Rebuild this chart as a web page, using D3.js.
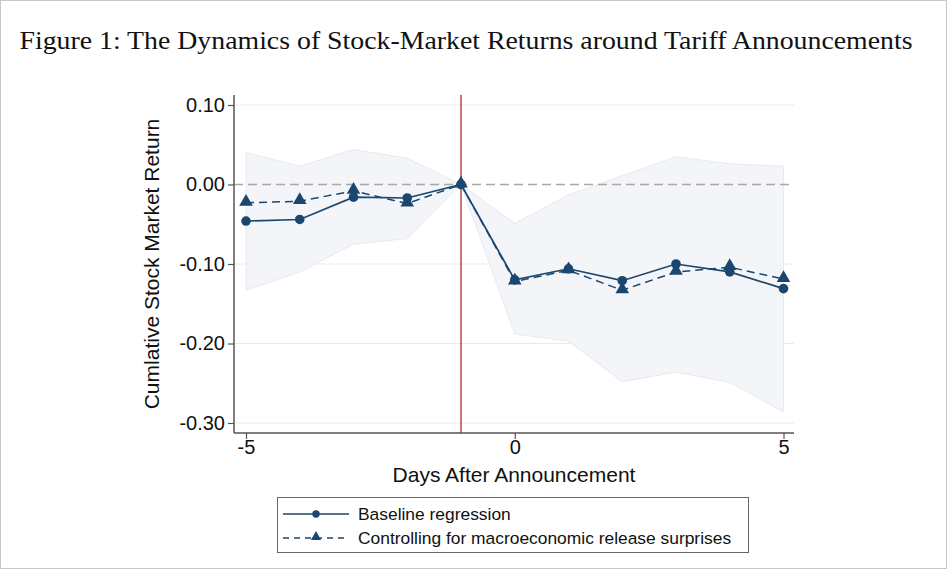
<!DOCTYPE html>
<html>
<head>
<meta charset="utf-8">
<script src="https://cdn.jsdelivr.net/npm/d3@7"></script>
<style>
  body { margin: 0; background: #fff; }
  svg { display: block; }
</style>
</head>
<body>
<div id="chart"></div>
<script>
// Days relative to announcement
const days = [-5, -4, -3, -2, -1, 0, 1, 2, 3, 4, 5];
// Baseline regression (circles)
const baseline = [-0.046, -0.044, -0.016, -0.017, 0, -0.120, -0.106, -0.121, -0.100, -0.110, -0.131];
// Controlling for macro surprises (triangles)
const controlled = [-0.023, -0.021, -0.008, -0.024, 0, -0.122, -0.108, -0.133, -0.110, -0.104, -0.119];
// Confidence band around baseline
const ciUpper = [0.040, 0.023, 0.044, 0.033, 0, -0.049, -0.013, 0.011, 0.035, 0.026, 0.023];
const ciLower = [-0.133, -0.110, -0.075, -0.068, 0, -0.188, -0.197, -0.248, -0.236, -0.249, -0.286];
const yTicks = [0.10, 0.00, -0.10, -0.20, -0.30];
const xTicks = [-5, 0, 5];

const W = 947, H = 569;
const navy = "#1a476f";
const sans = "Liberation Sans, Arial, sans-serif";

const svg = d3.select("#chart").append("svg")
    .attr("width", W)
    .attr("height", H);

// outer frame
svg.append("rect")
    .attr("x", 0.5).attr("y", 0.5)
    .attr("width", W - 1).attr("height", H - 1)
    .attr("fill", "none")
    .attr("stroke", "#c8c8c8");

svg.append("text")
    .attr("x", 466).attr("y", 49)
    .attr("text-anchor", "middle")
    .attr("font-family", "Liberation Serif, serif")
    .attr("font-size", 26)
    .attr("textLength", 893)
    .attr("lengthAdjust", "spacingAndGlyphs")
    .attr("fill", "#111")
    .text("Figure 1: The Dynamics of Stock-Market Returns around Tariff Announcements");

const plot = {left: 234, right: 794, top: 95, bottom: 433};

const x = d3.scaleLinear().domain([-5, 5]).range([246, 783.5]);
const y = d3.scaleLinear().domain([0.10, -0.30]).range([105, 423]);

// hyphen instead of unicode minus, like the original
const fmtY = d => d3.format(".2f")(d).replace("−", "-");

const g = svg.append("g");

// gridlines
g.selectAll("line.grid")
    .data(yTicks.filter(d => d !== 0))
    .enter().append("line")
    .attr("x1", plot.left).attr("x2", plot.right)
    .attr("y1", d => y(d)).attr("y2", d => y(d))
    .attr("stroke", "#eaeaea")
    .attr("stroke-width", 1);

// confidence band
const area = d3.area()
    .x((d, i) => x(days[i]))
    .y0((d, i) => y(ciLower[i]))
    .y1((d, i) => y(ciUpper[i]));

g.append("path")
    .datum(days)
    .attr("d", area)
    .attr("fill", "#f3f5f8")
    .attr("stroke", "#e6ebf0")
    .attr("stroke-width", 1);

// zero reference line
g.append("line")
    .attr("x1", plot.left).attr("x2", plot.right)
    .attr("y1", y(0)).attr("y2", y(0))
    .attr("stroke", "#a8a8a8")
    .attr("stroke-width", 1.3)
    .attr("stroke-dasharray", "9,5");

// announcement line
g.append("line")
    .attr("x1", x(-1)).attr("x2", x(-1))
    .attr("y1", plot.top).attr("y2", plot.bottom)
    .attr("stroke", "#b5474b")
    .attr("stroke-width", 1.5);

const line = d3.line()
    .x((d, i) => x(days[i]))
    .y(d => y(d));

g.append("path")
    .datum(controlled)
    .attr("d", line)
    .attr("fill", "none")
    .attr("stroke", navy)
    .attr("stroke-width", 1.5)
    .attr("stroke-dasharray", "8,5");

g.append("path")
    .datum(baseline)
    .attr("d", line)
    .attr("fill", "none")
    .attr("stroke", navy)
    .attr("stroke-width", 1.7);

const tri = d3.symbol().type(d3.symbolTriangle).size(80);
g.selectAll("path.tri")
    .data(controlled)
    .enter().append("path")
    .attr("class", "tri")
    .attr("transform", (d, i) => `translate(${x(days[i])},${y(d) - 1})`)
    .attr("d", tri)
    .attr("fill", navy);

g.selectAll("circle.dot")
    .data(baseline)
    .enter().append("circle")
    .attr("class", "dot")
    .attr("cx", (d, i) => x(days[i]))
    .attr("cy", d => y(d))
    .attr("r", 4.8)
    .attr("fill", navy);

// axes
const yAxis = d3.axisLeft(y)
    .tickValues(yTicks)
    .tickFormat(fmtY)
    .tickSize(6)
    .tickPadding(3);

const yg = svg.append("g")
    .attr("transform", `translate(${plot.left},0)`)
    .call(yAxis);
yg.select(".domain").remove();
yg.append("line")
    .attr("x1", 0).attr("x2", 0)
    .attr("y1", plot.top).attr("y2", plot.bottom)
    .attr("stroke", "#555").attr("stroke-width", 1.5);

const xAxis = d3.axisBottom(x)
    .tickValues(xTicks)
    .tickFormat(d => d < 0 ? "-" + Math.abs(d) : String(d))
    .tickSize(6)
    .tickPadding(1);

const xg = svg.append("g")
    .attr("transform", `translate(0,${plot.bottom})`)
    .call(xAxis);
xg.select(".domain").remove();
xg.append("line")
    .attr("x1", plot.left).attr("x2", plot.right)
    .attr("y1", 0).attr("y2", 0)
    .attr("stroke", "#555").attr("stroke-width", 1.5);

svg.selectAll(".tick line").attr("stroke", "#555").attr("stroke-width", 1.2);
svg.selectAll(".tick text")
    .attr("font-family", sans)
    .attr("font-size", 20)
    .attr("fill", "#111");

// axis titles
svg.append("text")
    .attr("transform", `translate(159,${(plot.top + plot.bottom) / 2}) rotate(-90)`)
    .attr("text-anchor", "middle")
    .attr("font-family", sans)
    .attr("font-size", 21)
    .attr("fill", "#111")
    .text("Cumlative Stock Market Return");

svg.append("text")
    .attr("x", 514).attr("y", 482)
    .attr("text-anchor", "middle")
    .attr("font-family", sans)
    .attr("font-size", 21)
    .attr("fill", "#111")
    .text("Days After Announcement");

// legend
const lg = svg.append("g");
lg.append("rect")
    .attr("x", 277.5).attr("y", 497.5)
    .attr("width", 471).attr("height", 55)
    .attr("fill", "#fff")
    .attr("stroke", "#666").attr("stroke-width", 1);

const legendItems = [
    {label: "Baseline regression", dash: null, mark: "circle", yy: 514},
    {label: "Controlling for macroeconomic release surprises", dash: "6,5", mark: "tri", yy: 538}
];

legendItems.forEach(it => {
    lg.append("line")
        .attr("x1", 283).attr("x2", 349)
        .attr("y1", it.yy).attr("y2", it.yy)
        .attr("stroke", navy).attr("stroke-width", 1.3)
        .attr("stroke-dasharray", it.dash);
    if (it.mark === "circle") {
        lg.append("circle").attr("cx", 316).attr("cy", it.yy).attr("r", 3.7).attr("fill", navy);
    } else {
        lg.append("path")
            .attr("transform", `translate(316,${it.yy - 1})`)
            .attr("d", d3.symbol().type(d3.symbolTriangle).size(45))
            .attr("fill", navy);
    }
    lg.append("text")
        .attr("x", 358).attr("y", it.yy + 6)
        .attr("font-family", sans)
        .attr("font-size", 17.4)
        .attr("fill", "#111")
        .text(it.label);
});
</script>
</body>
</html>
